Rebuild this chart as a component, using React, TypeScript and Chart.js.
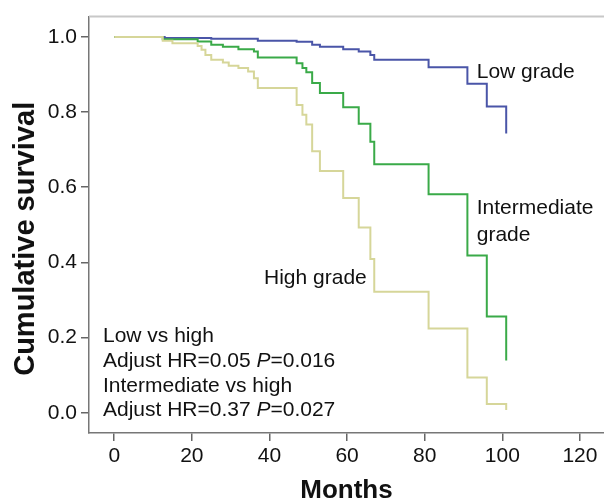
import React, { useEffect, useRef } from "react";
import { Chart, registerables } from "chart.js";

Chart.register(...registerables);

const FONT = "'Liberation Sans', Arial, Helvetica, sans-serif";

// Cox-adjusted survival curves (months, cumulative survival)
const lowMonths = [0, 13, 25, 37, 47, 51, 53, 59, 63, 66, 67, 81, 91, 96, 101];
const lowSurv = [1.0, 0.997, 0.995, 0.99, 0.987, 0.979, 0.974, 0.967, 0.961, 0.952, 0.939, 0.919, 0.875, 0.815, 0.743];

const intMonths = [0, 12.5, 21.5, 25, 28, 32, 36, 37, 47, 48.5, 49.5, 51, 53, 59, 63, 66, 67, 81, 91, 96, 101];
const intSurv = [1.0, 0.994, 0.988, 0.979, 0.974, 0.967, 0.961, 0.945, 0.93, 0.917, 0.906, 0.877, 0.851, 0.813, 0.769, 0.721, 0.661, 0.581, 0.418, 0.256, 0.139];

const highMonths = [0, 12.5, 15, 21.5, 22.5, 23.5, 25, 28, 29.5, 32, 34.5, 36, 37, 47, 48.5, 49.5, 51, 53, 59, 63, 66, 67, 81, 91, 96, 101];
const highSurv = [1.0, 0.99, 0.983, 0.976, 0.966, 0.952, 0.939, 0.932, 0.923, 0.917, 0.908, 0.89, 0.864, 0.819, 0.793, 0.767, 0.696, 0.643, 0.571, 0.493, 0.409, 0.322, 0.224, 0.094, 0.023, 0.007];

const xTicks = [0, 20, 40, 60, 80, 100, 120];
const yTicks = [0, 0.2, 0.4, 0.6, 0.8, 1.0];

const xTitle = "Months";
const yTitle = "Cumulative survival";

// curve labels, anchored in data coordinates (month, survival) at text baseline
const curveLabels = [
  { text: "Low grade", x: 93.4, y: 0.89 },
  { text: "Intermediate", x: 93.4, y: 0.529 },
  { text: "grade", x: 93.4, y: 0.458 },
  { text: "High grade", x: 38.6, y: 0.343 },
];

// statistics block: each line is a list of [text, italic]
const statsX = -2.9;
const statsY = [0.188, 0.122, 0.056, -0.01];
const statsLines: [string, boolean][][] = [
  [["Low vs high", false]],
  [["Adjust HR=0.05 ", false], ["P", true], ["=0.016", false]],
  [["Intermediate vs high", false]],
  [["Adjust HR=0.37 ", false], ["P", true], ["=0.027", false]],
];

const toPts = (xs: number[], ys: number[]) => xs.map((x, i) => ({ x, y: ys[i] }));

const decorPlugin = {
  id: "decor",
  afterDraw(chart: any) {
    const { ctx, chartArea, scales } = chart;
    const xs = scales.x;
    const ys = scales.y;
    ctx.save();
    // light top frame line
    ctx.strokeStyle = "#c8c8c8";
    ctx.lineWidth = 2;
    ctx.beginPath();
    ctx.moveTo(chartArea.left, chartArea.top);
    ctx.lineTo(chartArea.right, chartArea.top);
    ctx.stroke();

    ctx.fillStyle = "#111";
    ctx.textBaseline = "alphabetic";
    ctx.textAlign = "left";
    ctx.font = `21px ${FONT}`;
    for (const l of curveLabels) {
      ctx.fillText(l.text, xs.getPixelForValue(l.x), ys.getPixelForValue(l.y));
    }
    statsLines.forEach((parts, i) => {
      let px = xs.getPixelForValue(statsX);
      const py = ys.getPixelForValue(statsY[i]);
      for (const [t, it] of parts) {
        ctx.font = `${it ? "italic " : ""}21px ${FONT}`;
        ctx.fillText(t, px, py);
        px += ctx.measureText(t).width;
      }
    });

    // y axis title
    ctx.font = `bold 29px ${FONT}`;
    ctx.textAlign = "center";
    ctx.translate(34, (chartArea.top + chartArea.bottom) / 2 + 14);
    ctx.rotate(-Math.PI / 2);
    ctx.fillText(yTitle, 0, 0);
    ctx.restore();
  },
};

export default function App() {
  const ref = useRef<HTMLCanvasElement | null>(null);
  useEffect(() => {
    if (!ref.current) return;
    const common = { stepped: true as const, pointRadius: 0, borderWidth: 2, fill: false };
    const chart = new Chart(ref.current, {
      type: "line",
      data: {
        datasets: [
          { ...common, label: "Low grade", data: toPts(lowMonths, lowSurv), borderColor: "#4a55a8", order: 3 },
          { ...common, label: "Intermediate grade", data: toPts(intMonths, intSurv), borderColor: "#3aaa48", order: 2 },
          { ...common, label: "High grade", data: toPts(highMonths, highSurv), borderColor: "#d6d699", order: 1 },
        ],
      },
      options: {
        animation: false,
        responsive: false,
        devicePixelRatio: 1,
        layout: { padding: { top: 15, left: 0, right: 0, bottom: 0 } },
        plugins: { legend: { display: false }, tooltip: { enabled: false } },
        scales: {
          x: {
            type: "linear",
            min: -6.5,
            max: 126.2,
            afterBuildTicks: (s: any) => {
              s.ticks = xTicks.map((v) => ({ value: v }));
            },
            afterFit: (s: any) => {
              s.height = 67;
            },
            ticks: { color: "#111", font: { family: FONT, size: 21 }, padding: 3, maxRotation: 0, autoSkip: false },
            grid: { drawOnChartArea: false, drawTicks: true, tickLength: 8, color: "#666", lineWidth: 1.5 },
            border: { display: true, color: "#777", width: 1.5 },
            title: {
              display: true,
              text: xTitle,
              color: "#111",
              font: { family: FONT, size: 26, weight: "bold", lineHeight: 0.7 },
              padding: { top: 0, bottom: 0 },
            },
          },
          y: {
            type: "linear",
            min: -0.054,
            max: 1.054,
            afterBuildTicks: (s: any) => {
              s.ticks = yTicks.map((v) => ({ value: v }));
            },
            afterFit: (s: any) => {
              s.width = 89;
            },
            ticks: {
              color: "#111",
              font: { family: FONT, size: 21 },
              padding: 4,
              callback: (v: any) => Number(v).toFixed(1),
            },
            grid: { drawOnChartArea: false, drawTicks: true, tickLength: 8, color: "#666", lineWidth: 1.5 },
            border: { display: true, color: "#777", width: 1.5 },
          },
        },
      },
      plugins: [decorPlugin],
    });
    return () => chart.destroy();
  }, []);
  return (
    <div style={{ position: "absolute", left: 0, top: 0, width: 604, height: 500, background: "#fff" }}>
      <canvas ref={ref} width={604} height={500} style={{ display: "block" }} />
    </div>
  );
}
